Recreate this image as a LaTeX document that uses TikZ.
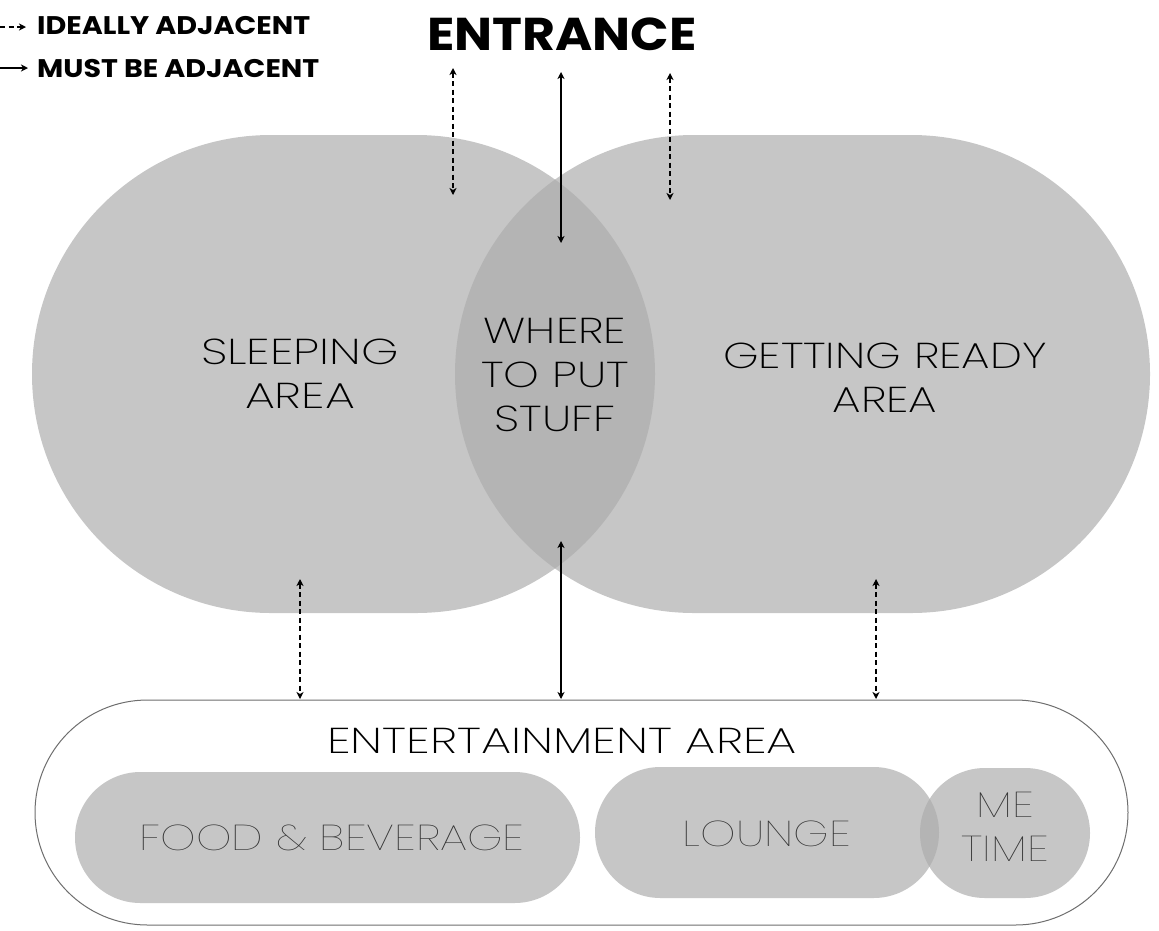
\documentclass[tikz,border=0pt]{standalone}
\usepackage{fontspec}
\setmainfont{Poppins}
\newfontfamily\thinf{Poppins ExtraLight}[FakeStretch=1.26]
\newfontfamily\hairf{Poppins Thin}[FakeStretch=1.25]
\newfontfamily\boldf{Poppins Bold}[FakeStretch=1.1]
\newfontfamily\legf{Poppins Bold}[FakeStretch=1.12]
\usetikzlibrary{arrows.meta}
\definecolor{zonegray}{HTML}{C6C6C6}
\definecolor{overgray}{HTML}{B4B4B4}
\definecolor{bordergray}{HTML}{6E6E6E}
\definecolor{subtext}{HTML}{333333}
\tikzset{
  zone/.style={fill=zonegray},
  overlap/.style={fill=overgray},
  label/.style={inner sep=0pt, align=center, text=black, font=\thinf\fontsize{36}{44}\selectfont},
  sublabel/.style={label, text=subtext, font=\hairf\fontsize{36}{44}\selectfont},
  legendtxt/.style={inner sep=0pt, anchor=west, font=\legf\fontsize{25.5}{30}\selectfont},
  must/.style={line width=1.3pt, {Stealth[length=7pt,width=7pt,inset=2pt]}-{Stealth[length=7pt,width=7pt,inset=2pt]}},
  ideal/.style={must, dash pattern=on 5pt off 3.5pt},
  mustleg/.style={line width=1.3pt, -{Stealth[length=7pt,width=7pt,inset=2pt]}},
  idealleg/.style={mustleg, dash pattern=on 5pt off 3.5pt},
}
\begin{document}
\begin{tikzpicture}[x=1pt,y=-1pt]
\useasboundingbox (0,0) rectangle (1159,930);
% big zones
\fill[zone, rounded corners=239pt] (32,135) rectangle (655,613);
\fill[zone, rounded corners=239pt] (455,135) rectangle (1150,613);
\begin{scope}
  \clip[rounded corners=239pt] (32,135) rectangle (655,613);
  \fill[overlap, rounded corners=239pt] (455,135) rectangle (1150,613);
\end{scope}
% entertainment area
\draw[bordergray, line width=1pt, fill=white, rounded corners=112.5pt] (35,700) rectangle (1128,925);
\fill[zone, rounded corners=65.5pt] (75,772) rectangle (580,903);
\fill[zone, rounded corners=65.5pt] (595,767) rectangle (939,898);
\fill[zone, rounded corners=65pt] (920,768) rectangle (1090,898);
\begin{scope}
  \clip[rounded corners=65.5pt] (595,767) rectangle (939,898);
  \fill[overlap, rounded corners=65pt] (920,768) rectangle (1090,898);
\end{scope}
% texts
\node[label, xscale=1.05] (sleep) at (300,374) {SLEEPING\\AREA};
\node[label] (stuff) at (555,374.5) {WHERE\\TO PUT\\STUFF};
\node[label] (ready) at (885,377.5) {GETTING READY\\AREA};
\node[label, xscale=1.06] (ent) at (562,740.5) {ENTERTAINMENT AREA};
\node[sublabel] (food) at (332,837.5) {FOOD \& BEVERAGE};
\node[sublabel] (lounge) at (767,833.5) {LOUNGE};
\node[sublabel] (me) at (1005,827) {ME\\TIME};
\node[inner sep=0pt, font=\boldf\fontsize{46}{50}\selectfont] (entr) at (562,34) {ENTRANCE};
% legend
\node[legendtxt] (lideal) at (37,26) {IDEALLY ADJACENT};
\node[legendtxt] (lmust) at (37,68.5) {MUST BE ADJACENT};
\coordinate (li0) at (0,27);
\coordinate (li1) at (26,27);
\coordinate (lm0) at (0,68);
\coordinate (lm1) at (28,68);
\draw[idealleg] (li0) -- (li1);
\draw[mustleg] (lm0) -- (lm1);
% connectors
\coordinate (a1) at (453,68);  \coordinate (a2) at (453,195);
\coordinate (b1) at (561,72);  \coordinate (b2) at (561,243);
\coordinate (c1) at (670,73);  \coordinate (c2) at (670,200);
\coordinate (d1) at (561,541); \coordinate (d2) at (561,699);
\coordinate (e1) at (300,579); \coordinate (e2) at (300,699);
\coordinate (f1) at (876,579); \coordinate (f2) at (876,699);
\draw[ideal] (a1) -- (a2);
\draw[must] (b1) -- (b2);
\draw[ideal] (c1) -- (c2);
\draw[must] (d1) -- (d2);
\draw[ideal] (e1) -- (e2);
\draw[ideal] (f1) -- (f2);
\end{tikzpicture}
\end{document}
